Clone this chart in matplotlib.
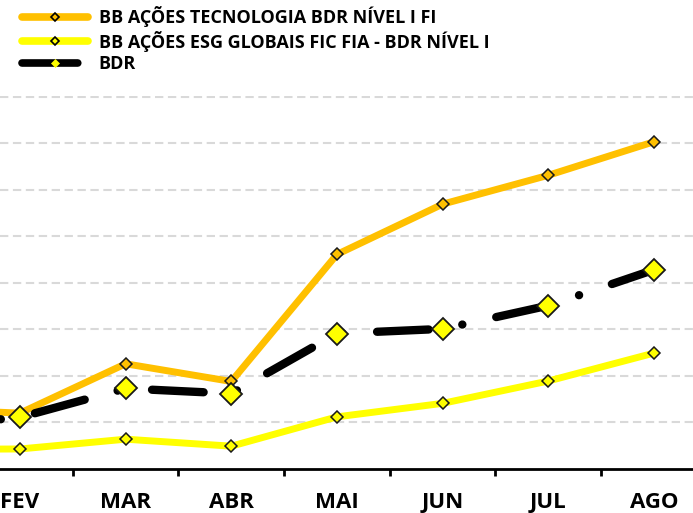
import numpy as np
import matplotlib.pyplot as plt
from matplotlib.lines import Line2D

meses = ["JAN", "FEV", "MAR", "ABR", "MAI", "JUN", "JUL", "AGO"]
tecnologia = [1.30, 1.20, 2.26, 1.88, 4.61, 5.69, 6.31, 7.03]
esg = [0.42, 0.43, 0.64, 0.49, 1.12, 1.41, 1.89, 2.49]
bdr = [0.88, 1.11, 1.73, 1.62, 2.91, 3.01, 3.51, 4.28]

nomes = ["BB AÇÕES TECNOLOGIA BDR NÍVEL I FI",
         "BB AÇÕES ESG GLOBAIS FIC FIA - BDR NÍVEL I",
         "BDR"]

laranja = "#FFC000"
amarelo = "#FFFF00"

plt.rcParams['font.family'] = ['Open Sans', 'DejaVu Sans']

fig = plt.figure(figsize=(6.93, 5.13), dpi=100)
ax = fig.add_axes([0, 0.0858, 1, 0.7277])

x = np.arange(len(meses))

ax.plot(x, esg, color=amarelo, lw=5, marker="D", ms=6.3,
        mfc=amarelo, mec="#1a1a1a", mew=1.1, zorder=3)
ax.plot(x, tecnologia, color=laranja, lw=5, marker="D", ms=6.3,
        mfc=laranja, mec="#1a1a1a", mew=1.1, zorder=4)
# traço-ponto do BDR
ax.plot(x, bdr, color="black", lw=6, ls=(10.08, (6.2, 4.09, 0.012, 4.16)),
        dash_capstyle="round", solid_capstyle="round", zorder=5)
ax.plot(x, bdr, ls="none", marker="D", ms=11, mfc=amarelo,
        mec="#1a1a1a", mew=1.3, zorder=6)

ax.set_yticks(np.arange(1, 9))
ax.yaxis.grid(True, color="#D9D9D9", lw=1.5, ls=(0, (4, 2.2)))
ax.set_axisbelow(True)
ax.tick_params(axis="y", left=False, labelleft=False)

for s in ["top", "left", "right"]:
    ax.spines[s].set_visible(False)
ax.spines["bottom"].set_linewidth(2)
ax.spines["bottom"].set_color("black")

ax.set_xticks(x)
ax.set_xticklabels(meses, fontsize=16, fontweight="bold")
ax.tick_params(axis="x", which="major", length=0, pad=16.5)
ax.set_xticks(x[:-1] + 0.5, minor=True)
ax.tick_params(axis="x", which="minor", length=5, width=2, color="black")

# JAN fica fora da área visível
ax.set_xlim(0.811, 7.369)
ax.set_ylim(0, 8.02)

handles = [
    Line2D([], [], color=laranja, lw=5.5, solid_capstyle="round", marker="D",
           ms=4.5, mfc=laranja, mec="black", mew=1.2),
    Line2D([], [], color=amarelo, lw=5.5, solid_capstyle="round", marker="D",
           ms=4.5, mfc=amarelo, mec="black", mew=1.2),
    Line2D([], [], color="black", lw=5.5, ls=(0, (7.3, 10)), dash_capstyle="round",
           marker="D", ms=4.0, mfc=amarelo, mec=amarelo, mew=0.5),
]
fig.legend(handles, nomes, loc="upper left", bbox_to_anchor=(22 / 693, 1 - 6 / 513),
           frameon=False, borderpad=0, borderaxespad=0, handlelength=3.65,
           handletextpad=0.6, labelspacing=0.2,
           prop={"size": 13, "weight": "bold"})

fig.savefig("out.png", dpi=100)
